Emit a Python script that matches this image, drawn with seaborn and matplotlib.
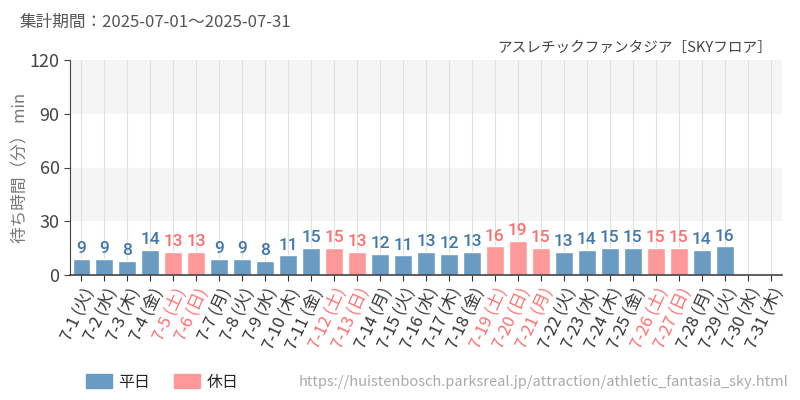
import numpy as np
import pandas as pd
import matplotlib.pyplot as plt
import seaborn as sns
from matplotlib.patches import Patch

# data
days = [f"7-{d}" for d in range(1, 32)]
weekdays = ["火", "水", "木", "金", "土", "日", "月"] * 5
weekdays = weekdays[:31]
holidays = ["7-5", "7-6", "7-12", "7-13", "7-19", "7-20", "7-21", "7-26", "7-27"]
wait_min = [9, 9, 8, 14, 13, 13, 9, 9, 8, 11, 15, 15, 13, 12, 11, 13, 12, 13,
            16, 19, 15, 13, 14, 15, 15, 15, 15, 14, 16, np.nan, np.nan]

labels = [f"{d} ({w})" for d, w in zip(days, weekdays)]
kind = ["休日" if d in holidays else "平日" for d in days]
df = pd.DataFrame({"label": labels, "wait": wait_min, "kind": kind})

c_week = "#6a9bc3"
c_hol = "#ff9999"
t_week = "#3f78ad"
t_hol = "#ff6e6e"

sns.set_style("white")
plt.rcParams["font.family"] = ["Noto Sans CJK JP", "DejaVu Sans"]

fig = plt.figure(figsize=(8, 4), dpi=100)
ax = fig.add_axes([0.0875, 0.3125, 0.89, 0.5375])

# background bands
for lo, hi, col in [(0, 30, "white"), (30, 60, "#f5f5f5"), (60, 90, "white"), (90, 120, "#f5f5f5")]:
    ax.axhspan(lo, hi, color=col, zorder=0, lw=0)
for i in range(len(days)):
    ax.axvline(i, color="#e0e0e0", lw=0.8, zorder=0.5)

sns.barplot(data=df, x="label", y="wait", hue="kind", order=labels,
            hue_order=["平日", "休日"], palette={"平日": c_week, "休日": c_hol},
            dodge=False, width=0.78, saturation=1, legend=False, ax=ax, zorder=2)

for i, (v, k) in enumerate(zip(wait_min, kind)):
    if np.isnan(v):
        continue
    ax.text(i, v + 1.5, f"{int(v)}", ha="center", va="bottom",
            fontsize=12.5, fontweight="medium", family="Roboto",
            color=t_hol if k == "休日" else t_week, zorder=3)

ax.set_ylim(0, 120)
ax.set_xlim(-0.5, len(days) - 0.5)
ax.set_yticks([0, 30, 60, 90, 120])
ax.tick_params(axis="y", labelsize=13, colors="#444444", length=4, width=0.8, direction="out", left=True)
ax.tick_params(axis="x", labelsize=12, length=4, width=0.8, direction="out", bottom=True, colors="#333333")
ax.set_xticks(range(len(labels)))
ax.set_xticklabels(labels, rotation=65, ha="right", rotation_mode="anchor")
for tl, k in zip(ax.get_xticklabels(), kind):
    tl.set_color(t_hol if k == "休日" else "#333333")
ax.set_xlabel("")
ax.set_ylabel("待ち時間（分） min", fontsize=12, color="#777777")
ax.yaxis.set_label_coords(-0.058, 0.5)

for s in ["top", "right"]:
    ax.spines[s].set_visible(False)
ax.spines["left"].set_color("#444444")
ax.spines["bottom"].set_color("#444444")
ax.spines["left"].set_linewidth(0.8)
ax.spines["bottom"].set_linewidth(1.2)

fig.text(0.025, 0.945, "集計期間：2025-07-01～2025-07-31", fontsize=12, color="#555555", va="center")
fig.text(0.965, 0.88, "アスレチックファンタジア［SKYフロア］", fontsize=10.5, color="#444444", ha="right", va="center")

handles = [Patch(color=c_week, label="平日"), Patch(color=c_hol, label="休日")]
fig.legend(handles=handles, loc="center left", bbox_to_anchor=(0.09, 0.045), ncol=2,
           frameon=False, fontsize=11.5, handlelength=1.6, handleheight=1.0, columnspacing=1.5,
           handletextpad=0.4)
fig.text(0.985, 0.045, "https://huistenbosch.parksreal.jp/attraction/athletic_fantasia_sky.html",
         fontsize=10.5, color="#aaaaaa", ha="right", va="center")

fig.savefig("out.png", dpi=100)
